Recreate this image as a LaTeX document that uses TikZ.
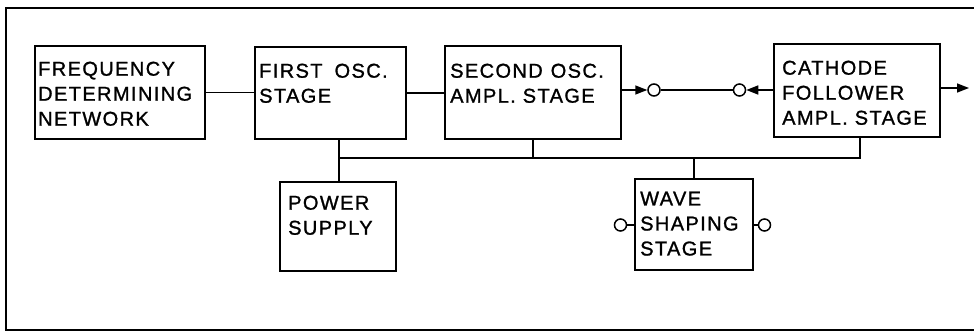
\documentclass[tikz,border=0pt]{standalone}
\usepackage{fontspec}
\setmainfont{Liberation Sans}[LetterSpace=7,FakeBold=1.2]
\usetikzlibrary{arrows.meta,calc}
\begin{document}
\begin{tikzpicture}[x=1pt,y=-1pt,
  box/.style={draw, line width=1.5pt, rectangle, inner sep=0pt, anchor=north west},
  lbl/.style={anchor=north west, inner sep=0pt, align=left, font=\fontsize{20}{25}\selectfont},
  wire/.style={line width=1.5pt},
  arr/.style={wire, -{Triangle[length=12pt,width=9pt]}},
  term/.style={circle, draw, line width=1.5pt, fill=white, minimum size=12pt, inner sep=0pt}]
\useasboundingbox (0,0) rectangle (974,332);
\draw[line width=1.5pt] (974,8) -- (6,8) -- (6,330) -- (974,330);
% boxes
\node[box, minimum width=170pt, minimum height=93pt] (freq) at (34,45) {};
\node[box, minimum width=151pt, minimum height=92pt] (first) at (254,46) {};
\node[box, minimum width=176pt, minimum height=93pt] (second) at (444,45) {};
\node[box, minimum width=166pt, minimum height=93pt] (cathode) at (773,43) {};
\node[box, minimum width=116pt, minimum height=89pt] (power) at (279,181) {};
\node[box, minimum width=118pt, minimum height=91pt] (wave) at (634,178) {};
% labels
\node[lbl] (freqt) at ($(freq.north west)+(4,16.5)$) {FREQUENCY\\DETERMINING\\NETWORK};
\node[lbl] (firstt) at ($(first.north west)+(5,17.5)$) {FIRST\hspace{0.6em}OSC.\\STAGE};
\node[lbl] (secondt) at ($(second.north west)+(6,18.5)$) {SECOND\hspace{0.4em}OSC.\\AMPL. STAGE};
\node[lbl] (cathodet) at ($(cathode.north west)+(9,17.5)$) {CATHODE\\FOLLOWER\\AMPL. STAGE};
\node[lbl] (powert) at ($(power.north west)+(9,14.5)$) {POWER\\SUPPLY};
\node[lbl] (wavet) at ($(wave.north west)+(6,13.5)$) {WAVE\\SHAPING\\STAGE};
% signal path
\draw[wire] (freq.east) -- (freq.east -| first.west);
\draw[wire] (first.east) -- (first.east -| second.west);
\node[term] (t1) at (654,90) {};
\node[term] (t2) at (739.5,90) {};
\draw[arr] (second.east |- t1) -- (t1.west);
\draw[wire] (t1) -- (t2);
\draw[arr] (cathode.west |- t2) -- (t2.east);
\coordinate (out) at (969,88);
\draw[arr] (cathode.east |- out) -- (out);
% supply bus
\coordinate (bus) at (339,158);
\coordinate (busR) at (860,158);
\coordinate (j2) at (533,158);
\coordinate (j3) at (694,158);
\draw[wire] (bus |- first.south) -- (bus |- power.north);
\draw[wire] (bus) -- (busR) -- (busR |- cathode.south);
\draw[wire] (j2) -- (j2 |- second.south);
\draw[wire] (j3) -- (j3 |- wave.north);
% wave shaping terminals
\node[term] (w1) at (620.5,225) {};
\node[term] (w2) at (764.5,225) {};
\draw[wire] (w1.east) -- (w1 -| wave.west);
\draw[wire] (wave.east |- w2) -- (w2.west);
\end{tikzpicture}
\end{document}
